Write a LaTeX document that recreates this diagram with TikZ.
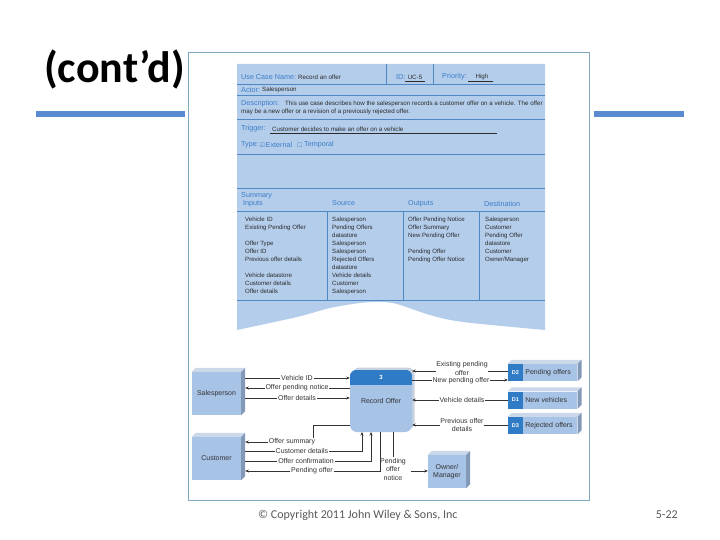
\documentclass[tikz,border=0pt]{standalone}
\usepackage{fontspec}
\setmainfont{Liberation Sans}
\newfontfamily\calfont{Carlito}
\newfontfamily\symfont{DejaVu Sans}
\usetikzlibrary{arrows.meta}
\definecolor{panel}{HTML}{B3CDEB}
\definecolor{pline}{HTML}{4F87C5}
\definecolor{plab}{HTML}{3D7DC7}
\definecolor{pval}{HTML}{2B2B2B}
\definecolor{titlebar}{HTML}{5A8AD0}
\definecolor{framec}{HTML}{7FA7BF}
\definecolor{ent}{HTML}{A7C3E6}
\definecolor{enttop}{HTML}{CAD8EA}
\definecolor{entside}{HTML}{8299B8}
\definecolor{hdr}{HTML}{2F7BC5}
\definecolor{dtext}{HTML}{333333}
\definecolor{foot}{HTML}{595959}
\begin{document}
\begin{tikzpicture}[x=1pt,y=-1pt,
  lab/.style={font=\fontsize{7.2}{8}\selectfont, text=plab, anchor=west, inner sep=0pt},
  val/.style={font=\fontsize{6.2}{8}\selectfont, text=pval, anchor=west, inner sep=0pt},
  col/.style={font=\fontsize{6.1}{8}\selectfont, text=pval, anchor=north west, inner sep=0pt, align=left},
  pl/.style={draw=pline, line width=0.7pt},
  entity/.style={fill=ent, minimum width=49pt, minimum height=43pt, inner sep=0pt, font=\fontsize{7}{8.5}\selectfont, text=dtext, align=center},
  dl/.style={font=\fontsize{7}{8.5}\selectfont, text=dtext, fill=white, inner sep=0.8pt, align=center},
  arr/.style={draw=dtext, line width=0.55pt, -{Stealth[length=3.5pt,width=3pt]}},
  ln/.style={draw=dtext, line width=0.55pt},
  storeid/.style={fill=hdr, minimum width=15pt, minimum height=17pt, inner sep=0pt, text=white, font=\fontsize{5.5}{6}\selectfont\bfseries},
  store/.style={fill=ent, minimum height=17pt, text width=50pt, inner xsep=2pt, inner ysep=0pt, align=left, font=\fontsize{7}{8}\selectfont, text=dtext, anchor=west},
  bevtop/.style={fill=enttop},
  bevside/.style={fill=entside}
]
\useasboundingbox (0,0) rectangle (720,540);
\fill[white] (0,0) rectangle (720,540);

% title
\node[anchor=base west, inner sep=0pt, font=\calfont\bfseries\fontsize{44}{44}\selectfont] (title) at (44,83) {(cont’d)};
\fill[titlebar] (36,111) rectangle (185,117);
\fill[titlebar] (594,111) rectangle (684,117);

% frame
\draw[framec, line width=0.8pt] (188,52) rectangle (589,500);

% form panel
\fill[panel] (237,64) -- (545,64) -- plot[smooth] coordinates {(545,330) (463,322) (430,315) (397,304) (380,302) (360,303) (330,308) (297,317) (237,330)} -- cycle;
\foreach \yy in {84,119,154,188,211,300} \draw[pl] (237,\yy) -- (545,\yy);
\draw[pl, line width=1pt] (237,96) -- (545,96);
\draw[pl] (386,64) -- (386,84);
\draw[pl] (433,64) -- (433,84);
\foreach \xx in {327,403,479} \draw[pl] (\xx,211) -- (\xx,300);

\node[lab] (ucn) at (241,77) {Use Case Name:};
\node[val] (ucv) at (298,77) {Record an offer};
\node[lab] (idl) at (396,77) {ID:};
\node[val] (idv) at (415,77) [anchor=center] {UC-5};
\draw[pval, line width=0.4pt] (405,81) -- (425,81);
\node[lab] (prl) at (442,77) {Priority:};
\node[val] (prv) at (482,77) [anchor=center] {High};
\draw[pval, line width=0.4pt] (468,81) -- (493,81);

\node[lab] (actl) at (241,90) {Actor:};
\node[val] (actv) at (262,90) {Salesperson};

\node[lab] (desl) at (241,104) {Description:};
\node[val] (desv1) at (285,104) {This use case describes how the salesperson records a customer offer on a vehicle. The offer};
\node[val] (desv2) at (241,111.5) {may be a new offer or a revision of a previously rejected offer.};

\node[lab] (trl) at (241,129) {Trigger:};
\node[val] (trv) at (272,129) {Customer decides to make an offer on a vehicle};
\draw[pval, line width=0.4pt] (270,133.5) -- (497,133.5);

\node[lab] (typl) at (241,145) {Type:};
\node[lab] (chk1) at (259.5,145) {\symfont\fontsize{6}{6}\selectfont ☑};
\node[lab] (ext) at (265.5,145) {External};
\node[lab] (chk2) at (297,145) {\symfont\fontsize{6}{6}\selectfont ☐};
\node[lab] (tmp) at (304,145) {Temporal};

\node[lab] (sum) at (241,196) {Summary};
\node[lab] (inp) at (243,203.5) {Inputs};
\node[lab] (src) at (332,203.5) {Source};
\node[lab] (outp) at (408,203.5) {Outputs};
\node[lab] (dest) at (484,203.5) {Destination};

\node[col] (c1) at (245,216.5) {Vehicle ID\\Existing Pending Offer\\\mbox{}\\Offer Type\\Offer ID\\Previous offer details\\\mbox{}\\Vehicle datastore\\Customer details\\Offer details};
\node[col] (c2) at (332,216.5) {Salesperson\\Pending Offers\\datastore\\Salesperson\\Salesperson\\Rejected Offers\\datastore\\Vehicle details\\Customer\\Salesperson};
\node[col] (c3) at (408,216.5) {Offer Pending Notice\\Offer Summary\\New Pending Offer\\\mbox{}\\Pending Offer\\Pending Offer Notice};
\node[col] (c4) at (485,216.5) {Salesperson\\Customer\\Pending Offer\\datastore\\Customer\\Owner/Manager};

% ---------- DFD ----------
% external entities
\node[entity] (sp) at (216.5,393.5) {Salesperson};
\fill[bevtop] (sp.north west) -- ++(4,-4) -- ([shift={(4,-4)}]sp.north east) -- (sp.north east) -- cycle;
\fill[bevside] (sp.north east) -- ++(4,-4) -- ([shift={(4,-4)}]sp.south east) -- (sp.south east) -- cycle;

\node[entity] (cu) at (216.5,458.5) {Customer};
\fill[bevtop] (cu.north west) -- ++(4,-4) -- ([shift={(4,-4)}]cu.north east) -- (cu.north east) -- cycle;
\fill[bevside] (cu.north east) -- ++(4,-4) -- ([shift={(4,-4)}]cu.south east) -- (cu.south east) -- cycle;

\node[entity, minimum width=38pt, minimum height=33pt] (om) at (447,471.5) {Owner/\\Manager};
\fill[bevtop] (om.north west) -- ++(4,-4) -- ([shift={(4,-4)}]om.north east) -- (om.north east) -- cycle;
\fill[bevside] (om.north east) -- ++(4,-4) -- ([shift={(4,-4)}]om.south east) -- (om.south east) -- cycle;

% process
\fill[entside!45, rounded corners=7pt] (352.5,367.5) rectangle (414.5,429.5);
\node[fill=ent, rounded corners=7pt, minimum width=62pt, minimum height=62pt, inner sep=0pt,
      font=\fontsize{7}{8.5}\selectfont, text=dtext] (proc) at (381,401) {Record Offer};
\begin{scope}
\clip[rounded corners=7pt] (proc.north west) rectangle (proc.south east);
\fill[hdr] (proc.north west) rectangle ([yshift=-15pt]proc.north east);
\end{scope}
\node[text=white, font=\fontsize{6}{6}\selectfont\bfseries, inner sep=0pt] (pnum) at ([yshift=-7.5pt]proc.north) {3};

% data stores
\node[storeid] (d2id) at (515.5,372.5) {D2};
\node[store] (d2) at (d2id.east) {Pending offers};
\node[storeid] (d1id) at (515.5,400) {D1};
\node[store] (d1) at (d1id.east) {New vehicles};
\node[storeid] (d3id) at (515.5,425.5) {D3};
\node[store] (d3) at (d3id.east) {Rejected offers};
\foreach \s/\t in {d2id/d2,d1id/d1,d3id/d3}{
  \fill[enttop] (\s.north west) -- ++(4,-4) -- ([shift={(4,-4)}]\t.north east) -- (\t.north east) -- cycle;
  \fill[bevside] (\t.north east) -- ++(4,-4) -- ([shift={(4,-4)}]\t.south east) -- (\t.south east) -- cycle;
}

% flows salesperson
\draw[arr] ([xshift=4pt]sp.east |- 0,378) -- (proc.west |- 0,378);
\draw[arr] (proc.west |- 0,388) -- ([xshift=4pt]sp.east |- 0,388);
\draw[arr] ([xshift=4pt]sp.east |- 0,398) -- (proc.west |- 0,398);
\node[dl] (f1) at (297,378) {Vehicle ID};
\node[dl] (f2) at (297,388) {Offer pending notice};
\node[dl] (f3) at (297,398) {Offer details};

% flows customer
\draw[arr] (proc.west |- 0,425) -- (313,425) -- (313,442) -- ([xshift=4pt]cu.east |- 0,442);
\draw[arr] ([xshift=4pt]cu.east |- 0,451) -- (362,451) -- (362,432);
\draw[arr] ([xshift=4pt]cu.east |- 0,461) -- (371,461) -- (371,432);
\draw[arr] (380,432) -- (380,471) -- ([xshift=4pt]cu.east |- 0,471);
\node[dl] (f4) at (292,442) {Offer summary};
\node[dl] (f5) at (302,451) {Customer details};
\node[dl] (f6) at (306,461) {Offer confirmation};
\node[dl] (f7) at (312,471) {Pending offer};

% pending offer notice
\node[dl, fill=none] (pon) at (393,469) {Pending\\offer\\notice};
\draw[ln] (393,432) -- (pon.north);
\draw[arr] ([xshift=4pt]pon.east |- 0,471) -- (om.west |- 0,471);

% flows data stores
\draw[arr] (d2id.west |- 0,371) -- (proc.east |- 0,371);
\draw[arr] (proc.east |- 0,380) -- (d2id.west |- 0,380);
\draw[arr] (d1id.west |- 0,400) -- (proc.east |- 0,400);
\draw[arr] (d3id.west |- 0,425) -- (proc.east |- 0,425);
\node[dl] (f8) at (462,368.5) {Existing pending\\offer};
\node[dl] (f9) at (461,380.5) {New pending offer};
\node[dl] (f10) at (462,400) {Vehicle details};
\node[dl] (f11) at (462,425) {Previous offer\\details};

% footer
\node[anchor=west, inner sep=0pt, text=foot, font=\calfont\fontsize{12}{13}\selectfont] (copy) at (258,515) {© Copyright 2011 John Wiley \& Sons, Inc};
\node[anchor=east, inner sep=0pt, text=foot, font=\calfont\fontsize{12}{13}\selectfont] (page) at (678,515) {5-22};
\end{tikzpicture}
\end{document}
